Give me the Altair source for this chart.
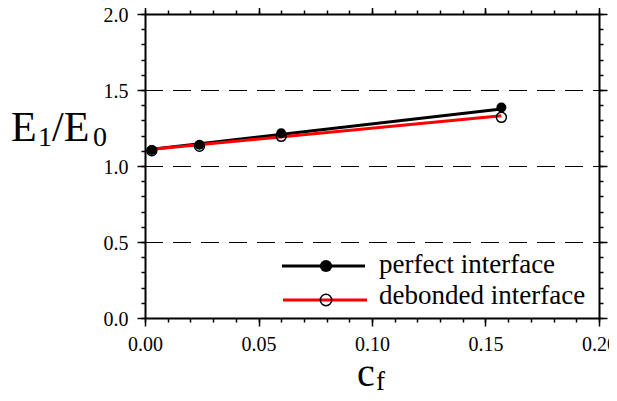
import altair as alt
import pandas as pd

# ---- data ----
cf = [0.003, 0.024, 0.060, 0.157]
perfect = [1.105, 1.14, 1.215, 1.385]
debonded = [1.10, 1.13, 1.195, 1.32]
fit_cf = [0.003, 0.157]
perfect_fit = [1.11, 1.375]
debonded_fit = [1.11, 1.33]
grid_levels = [0.5, 1.0, 1.5]
x_major = [0.0, 0.05, 0.10, 0.15, 0.20]
x_minor = [0.0, 0.01, 0.02, 0.03, 0.04, 0.05, 0.06, 0.07, 0.08, 0.09, 0.10,
           0.11, 0.12, 0.13, 0.14, 0.15, 0.16, 0.17, 0.18, 0.19, 0.20]
y_major = [0.0, 0.5, 1.0, 1.5, 2.0]
y_minor = [0.0, 0.1, 0.2, 0.3, 0.4, 0.5, 0.6, 0.7, 0.8, 0.9, 1.0,
           1.1, 1.2, 1.3, 1.4, 1.5, 1.6, 1.7, 1.8, 1.9, 2.0]
series_names = ["perfect interface", "debonded interface"]

W, H = 454, 304
FONT = "Liberation Serif, Times New Roman, serif"

pts_p = pd.DataFrame({"cf": cf, "E": perfect})
pts_d = pd.DataFrame({"cf": cf, "E": debonded})
fit_p = pd.DataFrame({"cf": fit_cf, "E": perfect_fit})
fit_d = pd.DataFrame({"cf": fit_cf, "E": debonded_fit})
grid_df = pd.DataFrame({"g": grid_levels})

xs = alt.Scale(domain=[0, 0.2], nice=False, zero=False)
ys = alt.Scale(domain=[0, 2.0], nice=False, zero=False)


def major_axis(orient, values, digits, labels=True):
    horiz = orient in ("bottom", "top")
    return alt.Axis(orient=orient, values=values,
                    labelExpr=f"format(datum.value, '.{digits}f')",
                    labels=labels, title=None, grid=False, tickSize=8,
                    tickWidth=1.5, tickColor="black", domain=True,
                    domainColor="black", domainWidth=2, labelFont=FONT,
                    labelFontSize=20, labelColor="black",
                    labelPadding=8 if horiz else 9,
                    labelOffset=0 if horiz else 1,
                    labelFlush=False, labelOverlap=False)


def minor_axis(orient, values):
    return alt.Axis(orient=orient, values=values, labels=False, title=None,
                    grid=False, tickSize=4, tickWidth=1.5, tickColor="black",
                    domain=False)


grid = alt.Chart(grid_df).mark_rule(color="black", strokeWidth=1.2,
                                    strokeDash=[18, 10], yOffset=0.5).encode(
    y=alt.Y("g:Q", scale=ys, axis=None),
    x=alt.value(0), x2=alt.value(W))

line_p = alt.Chart(fit_p).mark_line(color="black", strokeWidth=3).encode(
    x=alt.X("cf:Q", scale=xs, axis=major_axis("bottom", x_major, 2)),
    y=alt.Y("E:Q", scale=ys, axis=major_axis("left", y_major, 1)))

line_d = alt.Chart(fit_d).mark_line(color="#ff0000", strokeWidth=3).encode(
    x=alt.X("cf:Q", scale=xs, axis=major_axis("top", x_major, 2, labels=False)),
    y=alt.Y("E:Q", scale=ys, axis=major_axis("right", y_major, 1, labels=False)))

pt_p = alt.Chart(pts_p).mark_point(shape="circle", filled=True, color="black",
                                   size=100, opacity=1).encode(
    x=alt.X("cf:Q", scale=xs, axis=minor_axis("bottom", x_minor)),
    y=alt.Y("E:Q", scale=ys, axis=minor_axis("left", y_minor)))

pt_d = alt.Chart(pts_d).mark_point(shape="circle", filled=False, color="black",
                                   strokeWidth=1.5, size=100, opacity=1).encode(
    x=alt.X("cf:Q", scale=xs, axis=minor_axis("top", x_minor)),
    y=alt.Y("E:Q", scale=ys, axis=minor_axis("right", y_minor)))


def text(t, x, y, size, align="left"):
    return alt.Chart(pd.DataFrame({"t": [t]})).mark_text(
        font=FONT, fontSize=size, color="black", align=align,
        baseline="alphabetic").encode(text="t:N", x=alt.value(x), y=alt.value(y))


# axis titles (with subscripts)
titles = [
    text("E", -134, 127, 42),
    text("1", -107, 132, 28),
    text("/E", -93, 127, 42),
    text("0", -52, 132, 28),
    text("c", 212, 372, 40),
    text("f", 231, 376, 27),
]

# manual legend
leg_p_line = alt.Chart(pd.DataFrame({"t": [series_names[0]]})).mark_rule(
    color="black", strokeWidth=3).encode(x=alt.value(137), x2=alt.value(220),
                                         y=alt.value(252))
leg_p_pt = alt.Chart(pd.DataFrame({"t": [series_names[0]]})).mark_point(
    shape="circle", filled=True, color="black", size=150, opacity=1).encode(
    x=alt.value(181), y=alt.value(252))
leg_d_line = alt.Chart(pd.DataFrame({"t": [series_names[1]]})).mark_rule(
    color="#ff0000", strokeWidth=3).encode(x=alt.value(138), x2=alt.value(222),
                                           y=alt.value(286))
leg_d_pt = alt.Chart(pd.DataFrame({"t": [series_names[1]]})).mark_point(
    shape="circle", filled=False, color="black", strokeWidth=1.5, size=130,
    opacity=1).encode(x=alt.value(181), y=alt.value(286))
leg_texts = [text(series_names[0], 234, 259, 27), text(series_names[1], 234, 290, 27)]

chart = alt.layer(
    grid, line_p, line_d, pt_p, pt_d, *titles,
    leg_p_line, leg_p_pt, leg_d_line, leg_d_pt, *leg_texts
).resolve_axis(x="independent", y="independent").properties(
    width=W, height=H,
    autosize=alt.AutoSizeParams(type="none"),
    padding={"left": 137, "top": 6, "right": 10, "bottom": 74},
).configure_view(stroke=None).configure(background="white")

chart.save("out.html", embed_options={"renderer": "svg", "actions": False})
